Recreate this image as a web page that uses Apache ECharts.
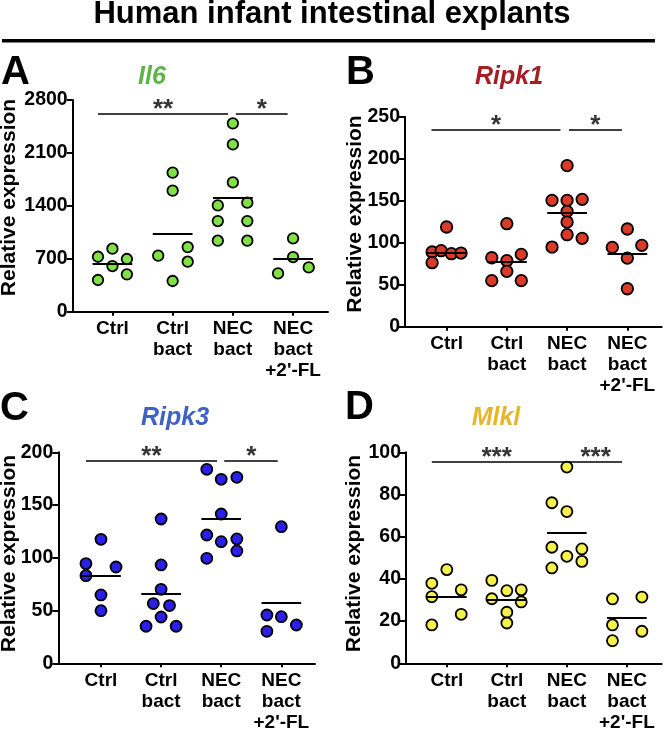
<!DOCTYPE html>
<html><head><meta charset="utf-8">
<script src="https://cdn.jsdelivr.net/npm/echarts@6/dist/echarts.min.js"></script>
<style>html,body{margin:0;padding:0;background:#fff}#c{width:664px;height:734px}</style>
</head><body><div id="c"></div>
<script>
const categories = ['Ctrl', 'Ctrl\nbact', 'NEC\nbact', "NEC\nbact\n+2'-FL"];

// Panel A: Il6
const il6Values = [
  [727, 833, 697, 419, 604, 494],
  [1839, 1601, 741, 855, 661, 406],
  [2491, 2213, 1711, 1407, 1442, 1199, 1199, 939, 939],
  [970, 723, 507, 586]
];
const il6Offsets = [
  [-0.24, 0, 0.24, -0.24, 0, 0.24],
  [0, 0, -0.24, 0.25, 0.25, 0],
  [0, 0, 0, -0.25, 0.24, -0.25, 0.24, -0.25, 0.24],
  [0, 0, -0.25, 0.26]
];
const il6Means = [635, 1027, 1508, 697];
const il6Axis = [0, 2800, 700];
const il6Bars = [[-0.24, 1.92, 2615], [2.05, 2.91, 2615]];
const il6Stars = [[0.84, 2615, '**'], [2.48, 2615, '*']];

// Panel B: Ripk1
const ripk1Values = [
  [118.7, 88.9, 90.5, 86.9, 87.7, 76.2],
  [122.6, 82.1, 78.6, 86.1, 65.9, 54.8, 54.8],
  [191.7, 150.4, 150.4, 151.6, 137.3, 124.6, 109.5, 94.8, 105.2],
  [116.3, 94.4, 96.8, 81.7, 45.2]
];
const ripk1Offsets = [
  [0, -0.24, -0.09, 0.08, 0.24, -0.24],
  [0, -0.25, 0, 0.24, 0, -0.25, 0.24],
  [0, -0.25, 0, 0.25, 0, 0, 0, -0.25, 0.25],
  [0, -0.25, 0.24, 0, 0]
];
const ripk1Means = [87.7, 77.8, 135.3, 86.9];
const ripk1Axis = [0, 250, 50];
const ripk1Bars = [[-0.25, 1.89, 234], [2.03, 2.91, 234]];
const ripk1Stars = [[0.82, 234, '*'], [2.47, 234, '*']];

// Panel C: Ripk3
const ripk3Values = [
  [117.5, 94.5, 91.3, 83.1, 64.8, 49.9],
  [136.8, 93.2, 70.1, 56.6, 54.7, 43.9, 35.1, 35.1],
  [183.9, 174.4, 176.3, 141.5, 121.6, 115.3, 117.9, 99.5, 106.5],
  [129.5, 45.8, 44.2, 36.3, 30.3]
];
const ripk3Offsets = [
  [0, -0.25, 0.25, -0.25, 0, 0],
  [0, 0, 0, -0.13, 0.14, 0, -0.25, 0.25],
  [-0.24, 0, 0.26, 0, -0.24, 0, 0.26, -0.24, 0.26],
  [0, -0.24, 0, 0.25, -0.24]
];
const ripk3Means = [83.4, 65.7, 137.1, 57.2];
const ripk3Axis = [0, 200, 50];
const ripk3Bars = [[-0.25, 1.93, 191.8], [2.05, 2.94, 191.8]];
const ripk3Stars = [[0.84, 191.8, '**'], [2.5, 191.8, '*']];

// Panel D: Mlkl
const mlklValues = [
  [44.4, 37.9, 31.6, 34.8, 23.2, 18.2],
  [39.3, 34.4, 34.8, 30.6, 29.1, 24.2, 19.1],
  [93.0, 76.1, 71.9, 55.0, 50.7, 54.2, 48.3, 45.2],
  [30.5, 31.4, 18.2, 15.2, 10.7]
];
const mlklOffsets = [
  [0, -0.25, -0.25, 0.24, 0.24, -0.25],
  [-0.25, 0, 0.24, -0.25, 0.24, 0, 0],
  [0, -0.25, 0, -0.25, 0, 0.25, 0.25, -0.25],
  [-0.24, 0.25, -0.24, 0.25, -0.24]
];
const mlklMeans = [31.6, 30.3, 61.8, 21.5];
const mlklAxis = [0, 100, 20];
const mlklBars = [[-0.25, 2.92, 95.6]];
const mlklStars = [[0.83, 95.6, '***'], [2.48, 95.6, '***']];

const FONT = '"Liberation Sans", Arial, Helvetica, sans-serif';

const panels = [
  { letter: 'A', title: 'Il6', values: il6Values, offsets: il6Offsets, means: il6Means, axis: il6Axis, bars: il6Bars, stars: il6Stars,
    fill: '#80E045', titleColor: '#5CB547', grid: { left: 72.7, top: 100, width: 255.3, height: 211.7 }, xr: [-0.66, 3.58],
    letterPos: [1, 72.5], titlePos: [152, 77], namePos: [9.5, 197.5], size: 10.5 },
  { letter: 'B', title: 'Ripk1', values: ripk1Values, offsets: ripk1Offsets, means: ripk1Means, axis: ripk1Axis, bars: ripk1Bars, stars: ripk1Stars,
    fill: '#DA3A27', titleColor: '#A31F24', grid: { left: 405, top: 116.7, width: 256.7, height: 210 }, xr: [-0.69, 3.57],
    letterPos: [346, 72.5], titlePos: [509, 77], namePos: [355.5, 214], size: 11.5 },
  { letter: 'C', title: 'Ripk3', values: ripk3Values, offsets: ripk3Offsets, means: ripk3Means, axis: ripk3Axis, bars: ripk3Bars, stars: ripk3Stars,
    fill: '#2A20E8', titleColor: '#4061C3', grid: { left: 58.3, top: 452.3, width: 256.7, height: 211 }, xr: [-0.71, 3.56],
    letterPos: [0, 409], titlePos: [175, 418.5], namePos: [9.5, 553.5], size: 11 },
  { letter: 'D', title: 'Mlkl', values: mlklValues, offsets: mlklOffsets, means: mlklMeans, axis: mlklAxis, bars: mlklBars, stars: mlklStars,
    fill: '#F6F04A', titleColor: '#E6B62C', grid: { left: 406, top: 452.3, width: 255.7, height: 211 }, xr: [-0.68, 3.58],
    letterPos: [345, 408], titlePos: [496, 418], namePos: [354.5, 553.5], size: 11 }
];

const grids = [], xAxes = [], yAxes = [], series = [], graphics = [];

graphics.push({
  type: 'text', left: 'center', top: -1,
  style: { text: 'Human infant intestinal explants', font: 'bold 31px ' + FONT, fill: '#000' }
});
graphics.push({ type: 'rect', shape: { x: 2, y: 39, width: 653, height: 3.5 }, style: { fill: '#000' } });

panels.forEach((p, k) => {
  grids.push(Object.assign({ containLabel: false, outerBoundsMode: 'none' }, p.grid));
  xAxes.push({
    type: 'value', gridIndex: k, min: p.xr[0], max: p.xr[1],
    axisLine: { show: true, onZero: false, lineStyle: { color: '#000', width: 2 } },
    axisTick: { show: true, customValues: [0, 1, 2, 3], length: 4, lineStyle: { color: '#000', width: 2 } },
    axisLabel: { show: true, customValues: [0, 1, 2, 3], formatter: v => categories[Math.round(v)],
      fontFamily: FONT, fontWeight: 'bold', fontSize: 19, lineHeight: 21, color: '#000', margin: 7 },
    splitLine: { show: false }
  });
  yAxes.push({
    type: 'value', gridIndex: k, min: p.axis[0], max: p.axis[1], interval: p.axis[2],
    axisLine: { show: true, onZero: false, lineStyle: { color: '#000', width: 2 } },
    axisTick: { show: true, length: 6, lineStyle: { color: '#000', width: 2 } },
    axisLabel: { fontFamily: FONT, fontWeight: 'bold', fontSize: 19.5, color: '#000', margin: 5, formatter: v => String(v) },
    splitLine: { show: false }
  });

  const pts = [];
  p.values.forEach((arr, g) => arr.forEach((v, j) => pts.push([g + p.offsets[g][j], v])));

  const meanLines = p.means.map((m, g) => [{ coord: [g - 0.33, m] }, { coord: [g + 0.33, m] }]);
  const barLines = p.bars.map(b => [{ coord: [b[0], b[2]], lineStyle: { width: 1.6 } }, { coord: [b[1], b[2]] }]);

  series.push({
    type: 'scatter', xAxisIndex: k, yAxisIndex: k, data: pts, symbol: 'circle', symbolSize: p.size,
    itemStyle: { color: p.fill, borderColor: '#000', borderWidth: 1.8, opacity: 1 },
    z: 3,
    markLine: {
      silent: true, symbol: ['none', 'none'], label: { show: false },
      lineStyle: { color: '#000', width: 2, type: 'solid' },
      data: meanLines.concat(barLines)
    }
  });
  series.push({
    type: 'scatter', xAxisIndex: k, yAxisIndex: k, symbolSize: 0, silent: true,
    data: p.stars.map(s => ({ value: [s[0], s[1]], label: { formatter: s[2] } })),
    label: { show: true, position: 'inside', offset: [0, -4], fontFamily: FONT, fontWeight: 'bold', fontSize: 26, color: '#000' }
  });

  graphics.push({ type: 'text', x: p.letterPos[0], y: p.letterPos[1],
    style: { text: p.letter, font: 'bold 40px ' + FONT, fill: '#000', verticalAlign: 'middle', align: 'left' } });
  graphics.push({ type: 'text', x: p.titlePos[0], y: p.titlePos[1],
    style: { text: p.title, font: 'italic bold 25px ' + FONT, fill: p.titleColor, verticalAlign: 'middle', align: 'center' } });
  graphics.push({ type: 'text', x: p.namePos[0], y: p.namePos[1], rotation: Math.PI / 2,
    style: { text: 'Relative expression', font: 'bold 21px ' + FONT, fill: '#000', verticalAlign: 'middle', align: 'center' } });
});

const chart = echarts.init(document.getElementById('c'), null, { renderer: 'canvas' });
chart.setOption({
  animation: false,
  backgroundColor: '#fff',
  grid: grids, xAxis: xAxes, yAxis: yAxes, series: series, graphic: graphics
});
</script>
</body></html>
